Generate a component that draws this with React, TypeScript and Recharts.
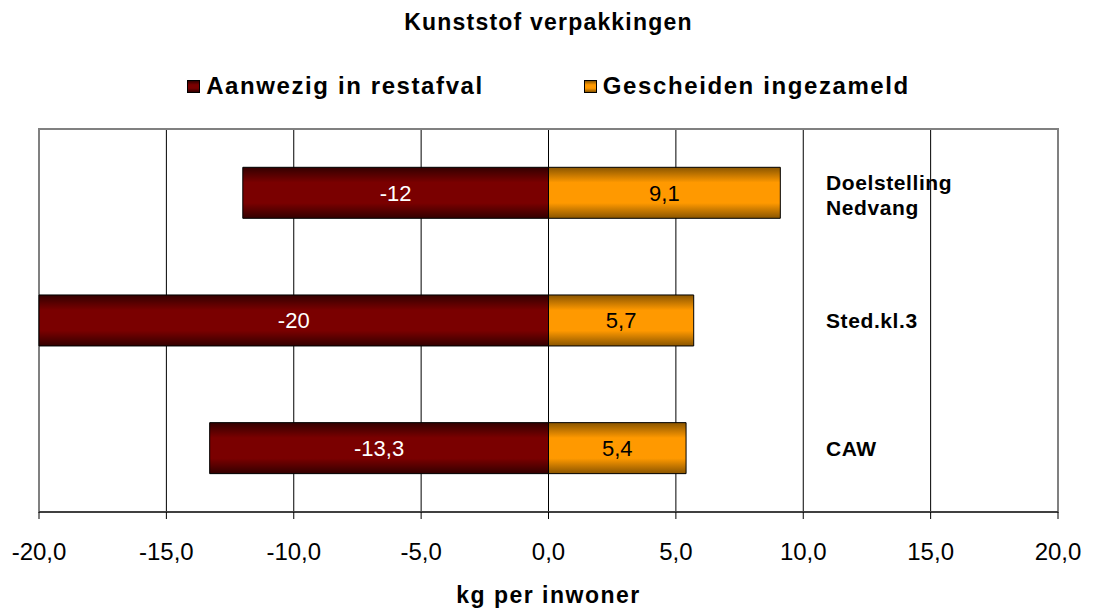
import { Bar, BarChart, CartesianGrid, LabelList, Legend, ReferenceArea, XAxis, YAxis } from 'recharts';

const categories = ['Doelstelling Nedvang', 'Sted.kl.3', 'CAW'];
const restafval = [-12, -20, -13.3];
const gescheiden = [9.1, 5.7, 5.4];
const xTicks = [-20, -15, -10, -5, 0, 5, 10, 15, 20];

const seriesNames = { restafval: 'Aanwezig in restafval', gescheiden: 'Gescheiden ingezameld' };

const data = categories.map((name, i) => ({ name, restafval: restafval[i], gescheiden: gescheiden[i] }));

const FONT = '"Liberation Sans", Arial, sans-serif';
const comma = (v: number | string) => String(v).replace('.', ',');

function Header() {
  const swatch = (bg: string) => (
    <span
      style={{
        display: 'inline-block',
        width: 11,
        height: 11,
        border: '1px solid #000',
        background: bg,
        marginRight: 6,
      }}
    />
  );
  return (
    <div style={{ height: 129, fontFamily: FONT, color: '#000', fontWeight: 700 }}>
      <div style={{ height: 44, lineHeight: '44px', fontSize: 23, letterSpacing: 1.2, textAlign: 'center' }}>
        Kunststof verpakkingen
      </div>
      <div
        style={{
          display: 'flex',
          justifyContent: 'center',
          alignItems: 'center',
          height: 40,
          marginTop: 22,
          fontSize: 24,
          letterSpacing: 1.6,
        }}
      >
        <span style={{ display: 'flex', alignItems: 'center', marginRight: 100 }}>
          {swatch('linear-gradient(#330000, #7a0000 35%, #7a0000 65%, #330000)')}
          {seriesNames.restafval}
        </span>
        <span style={{ display: 'flex', alignItems: 'center' }}>
          {swatch('linear-gradient(#8a5500, #ff9900 35%, #ff9900 65%, #8a5500)')}
          {seriesNames.gescheiden}
        </span>
      </div>
    </div>
  );
}

const renderCategoryTick = (props: any) => {
  const { x, y, payload } = props;
  const lines = String(payload.value).split(' ');
  const lx = Number(x) - 232;
  const first = 0.35 - ((lines.length - 1) * 1.2) / 2 + 0.1 * (lines.length - 1);
  return (
    <text x={lx} y={y} fontSize={21} fontWeight={700} fill="#000" letterSpacing={0.6} textAnchor="start">
      {lines.map((l, i) => (
        <tspan key={l} x={lx} dy={i === 0 ? `${first}em` : '1.2em'}>
          {l}
        </tspan>
      ))}
    </text>
  );
};

export default function App() {
  return (
    <div style={{ position: 'absolute', left: 0, top: 0, width: 1096, height: 609, background: '#fff', fontFamily: FONT }}>
      <BarChart
        width={1096}
        height={609}
        data={data}
        layout="vertical"
        stackOffset="sign"
        barCategoryGap="30%"
        margin={{ top: 0, right: 38, bottom: 0, left: 39 }}
      >
        <defs>
          <linearGradient id="gradRed" x1="0" y1="0" x2="0" y2="1">
            <stop offset="0%" stopColor="#330000" />
            <stop offset="30%" stopColor="#7a0000" />
            <stop offset="70%" stopColor="#7a0000" />
            <stop offset="100%" stopColor="#330000" />
          </linearGradient>
          <linearGradient id="gradOrange" x1="0" y1="0" x2="0" y2="1">
            <stop offset="0%" stopColor="#8a5500" />
            <stop offset="30%" stopColor="#ff9900" />
            <stop offset="70%" stopColor="#ff9900" />
            <stop offset="100%" stopColor="#8a5500" />
          </linearGradient>
        </defs>
        <Legend verticalAlign="top" align="center" content={() => <Header />} />
        <CartesianGrid horizontal={false} stroke="#000" strokeOpacity={1} />
        <ReferenceArea x1={-20} x2={20} fill="none" stroke="#808080" strokeWidth={2} />
        <XAxis
          type="number"
          domain={[-20, 20]}
          ticks={xTicks}
          tickFormatter={(v: number) => comma(v.toFixed(1))}
          tick={{ fontSize: 24, fill: '#000' }}
          axisLine={{ stroke: '#000' }}
          tickLine={{ stroke: '#000' }}
          tickSize={7}
          tickMargin={24}
          height={97}
          interval={0}
          label={{ value: 'kg per inwoner', position: 'insideBottom', offset: 6, fontSize: 23, fontWeight: 700, fill: '#000', letterSpacing: 1.5 }}
        />
        <YAxis
          type="category"
          dataKey="name"
          orientation="right"
          mirror
          axisLine={false}
          tickLine={false}
          tickSize={0}
          tickMargin={0}
          interval={0}
          tick={renderCategoryTick}
        />
        <Bar dataKey="restafval" name={seriesNames.restafval} stackId="a" fill="url(#gradRed)" stroke="#000" strokeWidth={1} isAnimationActive={false}>
          <LabelList dataKey="restafval" position="center" fill="#fff" fontSize={22} formatter={(v: any) => comma(v)} />
        </Bar>
        <Bar dataKey="gescheiden" name={seriesNames.gescheiden} stackId="a" fill="url(#gradOrange)" stroke="#000" strokeWidth={1} isAnimationActive={false}>
          <LabelList dataKey="gescheiden" position="center" fill="#000" fontSize={22} formatter={(v: any) => comma(v)} />
        </Bar>
      </BarChart>
    </div>
  );
}
